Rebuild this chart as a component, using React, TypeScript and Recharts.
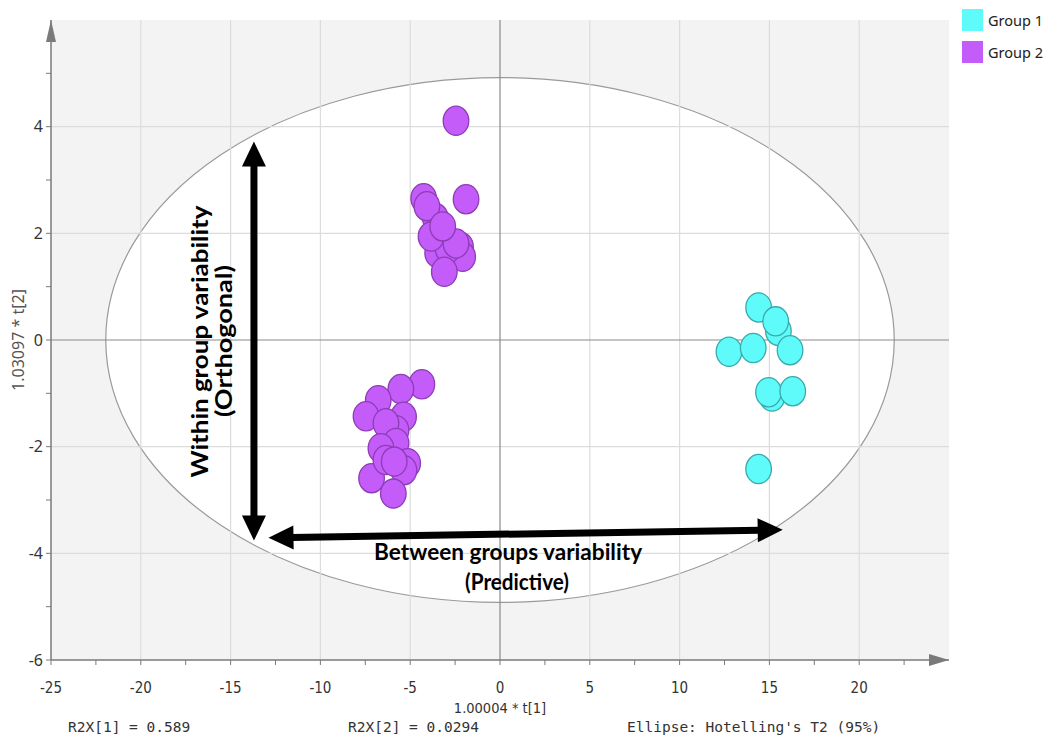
import {
  ScatterChart,
  Scatter,
  XAxis,
  YAxis,
  CartesianGrid,
  ReferenceLine,
  ReferenceArea,
  ReferenceDot,
  Legend,
} from "recharts";

// scores (t[1], t[2])
const group1 = [
  { x: 14.4, y: 0.61 },
  { x: 15.5, y: 0.17 },
  { x: 15.35, y: 0.35 },
  { x: 16.15, y: -0.19 },
  { x: 12.75, y: -0.22 },
  { x: 14.1, y: -0.15 },
  { x: 15.15, y: -1.06 },
  { x: 14.95, y: -0.98 },
  { x: 16.3, y: -0.96 },
  { x: 14.4, y: -2.42 },
];

const group2 = [
  { x: -2.45, y: 4.11 },
  { x: -1.89, y: 2.64 },
  { x: -4.25, y: 2.66 },
  { x: -3.6, y: 2.29 },
  { x: -4.07, y: 2.51 },
  { x: -2.2, y: 1.75 },
  { x: -2.08, y: 1.56 },
  { x: -3.47, y: 1.63 },
  { x: -2.9, y: 1.72 },
  { x: -3.1, y: 1.28 },
  { x: -3.84, y: 1.94 },
  { x: -2.45, y: 1.81 },
  { x: -3.19, y: 2.13 },
  { x: -4.35, y: -0.83 },
  { x: -5.52, y: -0.92 },
  { x: -6.78, y: -1.13 },
  { x: -7.46, y: -1.43 },
  { x: -5.37, y: -1.44 },
  { x: -5.79, y: -1.69 },
  { x: -6.35, y: -1.56 },
  { x: -5.79, y: -1.93 },
  { x: -6.63, y: -2.03 },
  { x: -7.15, y: -2.59 },
  { x: -5.14, y: -2.31 },
  { x: -5.35, y: -2.44 },
  { x: -6.35, y: -2.25 },
  { x: -5.89, y: -2.28 },
  { x: -5.94, y: -2.88 },
];

const xTicks = [-25, -22.5, -20, -17.5, -15, -12.5, -10, -7.5, -5, -2.5, 0, 2.5, 5, 7.5, 10, 12.5, 15, 17.5, 20, 22.5];
const xLabels = [-25, -20, -15, -10, -5, 0, 5, 10, 15, 20];
const yTicks = [-6, -5, -4, -3, -2, -1, 0, 1, 2, 3, 4, 5];
const yLabels = [-6, -4, -2, 0, 2, 4];
const gridX = [-20, -15, -10, -5, 5, 10, 15, 20];
const gridY = [-4, -2, 2, 4];

// Hotelling's T2 (95%) ellipse extent
const ellipseBox = { x1: -21.95, x2: 21.95, y1: -4.92, y2: 4.92 };

// annotation arrows, in data units
const arrows = [
  { from: { x: -13.7, y: 3.72 }, to: { x: -13.7, y: -3.76 } },
  { from: { x: -12.89, y: -3.71 }, to: { x: 15.74, y: -3.56 } },
];

const notes = [
  { x: -16.28, y: -0.03, text: "Within group variability", angle: -90 },
  { x: -14.92, y: -0.02, text: "(Orthogonal)", angle: -90 },
  { x: 0.45, y: -4.13, text: "Between groups variability", angle: 0 },
  { x: 0.95, y: -4.68, text: "(Predictive)", angle: 0 },
];

const stats = ["R2X[1] = 0.589", "R2X[2] = 0.0294", "Ellipse: Hotelling's T2 (95%)"];

const noteLen: Record<string, number> = {
  "Within group variability": 272,
  "(Orthogonal)": 152,
  "Between groups variability": 268,
  "(Predictive)": 104,
};

const EllipseShape = (p: any) => (
  <ellipse
    cx={p.x + p.width / 2}
    cy={p.y + p.height / 2}
    rx={p.width / 2}
    ry={p.height / 2}
    fill="#ffffff"
    stroke="#9a9a9a"
    strokeWidth={1.2}
  />
);

const ArrowShape = (p: any) => {
  const { x1, y1, x2, y2 } = p;
  const len = Math.hypot(x2 - x1, y2 - y1);
  const ux = (x2 - x1) / len;
  const uy = (y2 - y1) / len;
  const head = 25;
  const half = 12;
  const head1 = `${x1},${y1} ${x1 + ux * head - uy * half},${y1 + uy * head + ux * half} ${x1 + ux * head + uy * half},${y1 + uy * head - ux * half}`;
  const head2 = `${x2},${y2} ${x2 - ux * head - uy * half},${y2 - uy * head + ux * half} ${x2 - ux * head + uy * half},${y2 - uy * head - ux * half}`;
  return (
    <g>
      <line
        x1={x1 + ux * (head - 2)}
        y1={y1 + uy * (head - 2)}
        x2={x2 - ux * (head - 2)}
        y2={y2 - uy * (head - 2)}
        stroke="#000"
        strokeWidth={7}
      />
      <polygon points={head1} fill="#000" />
      <polygon points={head2} fill="#000" />
    </g>
  );
};

const makeNote = (text: string, angle: number) => (p: any) => (
  <text
    x={p.cx}
    y={p.cy}
    transform={angle ? `rotate(${angle}, ${p.cx}, ${p.cy})` : undefined}
    textAnchor="middle"
    textLength={noteLen[text]}
    lengthAdjust="spacingAndGlyphs"
    fontFamily="Lato, 'Noto Sans', sans-serif"
    fontWeight={700}
    fontSize={22}
    fill="#000"
  >
    {text}
  </text>
);

const XArrowHead = (p: any) => (
  <polygon points={`${p.cx},${p.cy} ${p.cx - 20},${p.cy - 6} ${p.cx - 20},${p.cy + 6}`} fill="#7a7a7a" />
);

const YArrowHead = (p: any) => (
  <polygon points={`${p.cx},${p.cy} ${p.cx - 5},${p.cy + 22} ${p.cx + 5},${p.cy + 22}`} fill="#7a7a7a" />
);

const Dot = (fill: string, stroke: string) => (p: any) => (
  <ellipse cx={p.cx} cy={p.cy} rx={12.8} ry={14.6} fill={fill} stroke={stroke} strokeWidth={1.3} />
);

const LegendBox = ({ payload }: any) => (
  <div style={{ fontFamily: "'Noto Sans', sans-serif", fontSize: 14.5, color: "#222" }}>
    {(payload || []).map((e: any) => (
      <div key={e.value} style={{ display: "flex", alignItems: "center", height: 22, marginBottom: 10 }}>
        <span style={{ width: 21, height: 22, background: e.color, display: "inline-block", marginRight: 5 }} />
        <span>{e.value}</span>
      </div>
    ))}
  </div>
);

const App = () => {
  const statLeft = [68, 348, 627];
  return (
    <div style={{ position: "absolute", left: 0, top: 0, width: 1045, height: 739, background: "#fff" }}>
      <ScatterChart width={1045} height={739} margin={{ top: 20, right: 96, bottom: 49, left: 11 }}>
        <CartesianGrid fill="#f3f3f3" horizontal={false} vertical={false} />
        <XAxis
          type="number"
          dataKey="x"
          domain={[-25, 25]}
          ticks={xTicks}
          interval={0}
          allowDataOverflow
          height={30}
          tickSize={5}
          tickMargin={17}
          tickFormatter={(v: number) => (xLabels.includes(v) ? String(v) : "")}
          tick={{ fontFamily: "'DejaVu Sans Condensed', 'DejaVu Sans', sans-serif", fontSize: 15, fill: "#333" }}
          axisLine={{ stroke: "#7a7a7a", strokeWidth: 1.5 }}
          tickLine={{ stroke: "#7a7a7a" }}
          label={{
            content: (p: any) => {
              const vb = p.viewBox || { x: 51, y: 660, width: 898 };
              return (
                <text
                  x={vb.x + vb.width / 2}
                  y={vb.y + 53}
                  textAnchor="middle"
                  fontFamily="'DejaVu Sans Condensed', 'DejaVu Sans', sans-serif"
                  fontSize={14.5}
                  fill="#333"
                >
                  1.00004 * t[1]
                </text>
              );
            },
          }}
        />
        <YAxis
          type="number"
          dataKey="y"
          domain={[-6, 6]}
          ticks={yTicks}
          interval={0}
          allowDataOverflow
          width={40}
          tickSize={5}
          tickMargin={3}
          tickFormatter={(v: number) => (yLabels.includes(v) ? String(v) : "")}
          tick={{ fontFamily: "'Noto Sans', sans-serif", fontSize: 16, fill: "#333" }}
          axisLine={{ stroke: "#7a7a7a", strokeWidth: 1.5 }}
          tickLine={{ stroke: "#7a7a7a" }}
          label={{
            content: (p: any) => {
              const vb = p.viewBox || { x: 11, y: 20, height: 640 };
              const cx = vb.x + 7;
              const cy = vb.y + vb.height / 2;
              return (
                <text
                  x={cx}
                  y={cy}
                  transform={`rotate(-90, ${cx}, ${cy})`}
                  textAnchor="middle"
                  dominantBaseline="central"
                  fontFamily="'Noto Sans', sans-serif"
                  fontSize={16}
                  fill="#555"
                >
                  1.03097 * t[2]
                </text>
              );
            },
          }}
        />
        <ReferenceArea
          x1={ellipseBox.x1}
          x2={ellipseBox.x2}
          y1={ellipseBox.y1}
          y2={ellipseBox.y2}
          shape={EllipseShape}
        />
        {gridX.map((v) => (
          <ReferenceLine key={`gx${v}`} x={v} stroke="#dcdcdc" strokeWidth={1.2} />
        ))}
        {gridY.map((v) => (
          <ReferenceLine key={`gy${v}`} y={v} stroke="#dcdcdc" strokeWidth={1.2} />
        ))}
        <ReferenceLine x={0} stroke="#8a8a8a" strokeWidth={1.2} />
        <ReferenceLine y={0} stroke="#8a8a8a" strokeWidth={1.2} />
        <ReferenceDot x={25} y={-6} r={0} ifOverflow="visible" shape={XArrowHead} />
        <ReferenceDot x={-25} y={6} r={0} ifOverflow="visible" shape={YArrowHead} />
        <Legend
          layout="vertical"
          align="center"
          verticalAlign="middle"
          wrapperStyle={{ position: "absolute", left: 962, top: 9, width: 90 }}
          content={LegendBox}
        />
        <Scatter name="Group 1" data={group1} fill="#5ffbfb" shape={Dot("#5ffbfb", "#3aa9a9")} isAnimationActive={false} />
        <Scatter name="Group 2" data={group2} fill="#c35cf8" shape={Dot("#c35cf8", "#8d3cb6")} isAnimationActive={false} />
        {arrows.map((a, i) => (
          <ReferenceLine key={`ar${i}`} segment={[a.from, a.to]} ifOverflow="visible" shape={ArrowShape} />
        ))}
        {notes.map((n) => (
          <ReferenceDot key={n.text} x={n.x} y={n.y} r={0} ifOverflow="visible" shape={makeNote(n.text, n.angle)} />
        ))}
      </ScatterChart>
      {stats.map((s, i) => (
        <div
          key={s}
          style={{
            position: "absolute",
            left: statLeft[i],
            top: 718,
            fontFamily: "'DejaVu Sans Mono', 'Liberation Mono', monospace",
            fontSize: 14.5,
            lineHeight: "18px",
            color: "#333",
            whiteSpace: "pre",
          }}
        >
          {s}
        </div>
      ))}
    </div>
  );
};

export default App;
